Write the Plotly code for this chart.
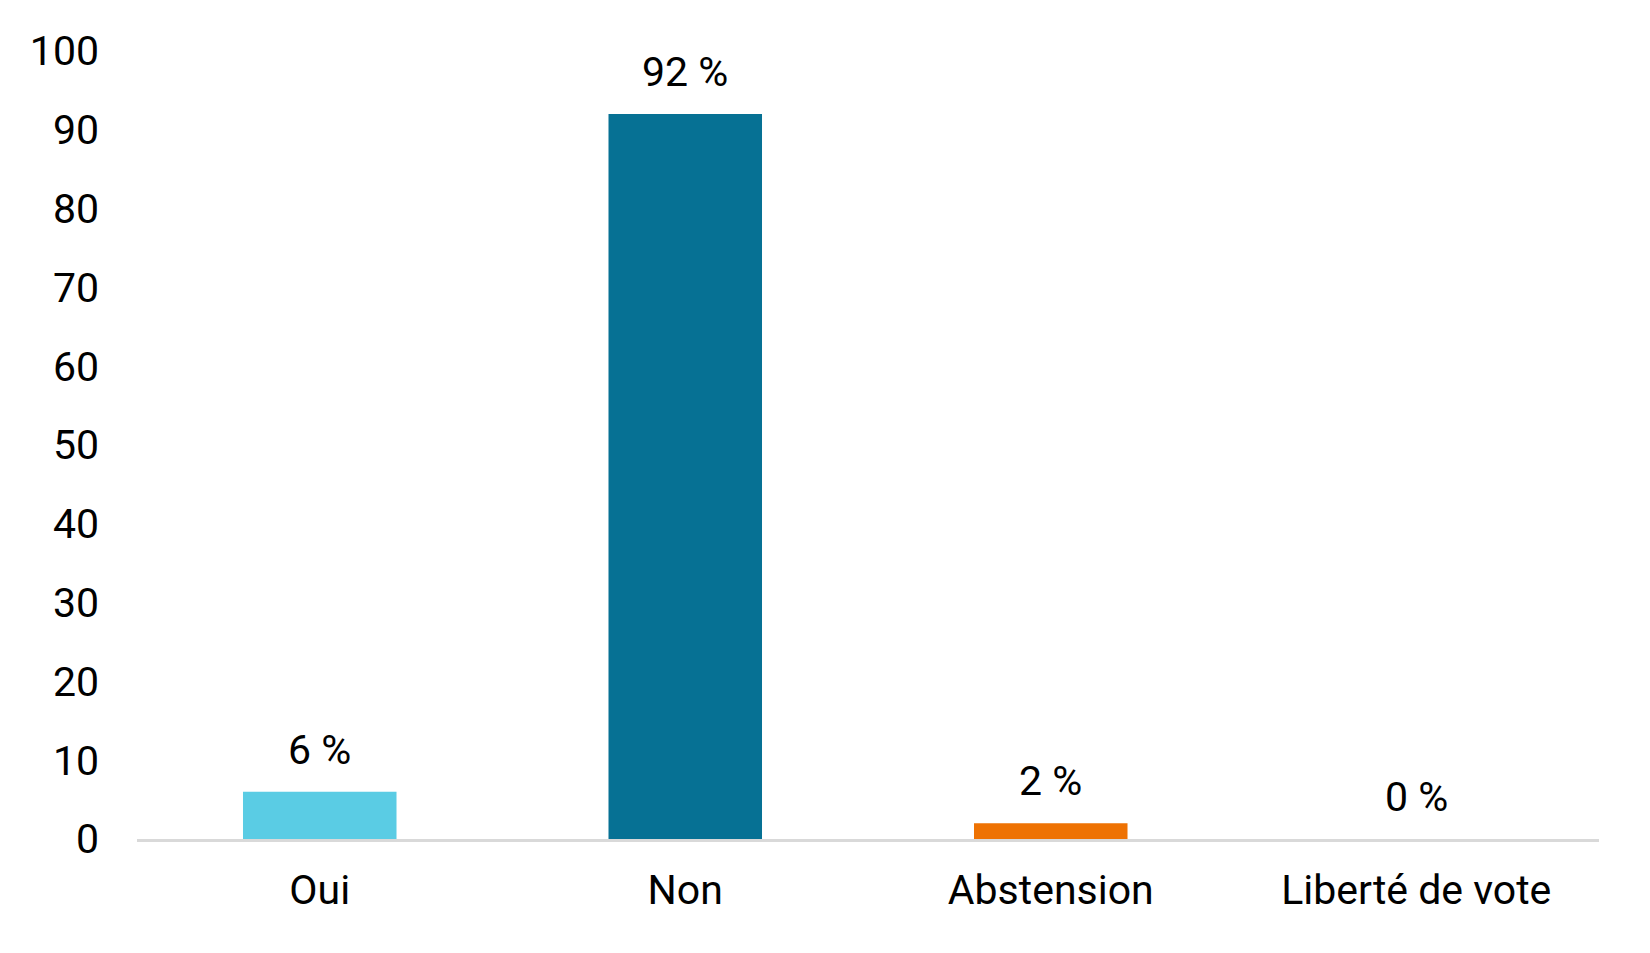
import plotly.graph_objects as go

categories = ["Oui", "Non", "Abstension", "Liberté de vote"]
values = [6, 92, 2, 0]
labels = ["6 %", "92 %", "2 %", "0 %"]
colors = ["#5ACCE4", "#067194", "#EE7203", "#A6A6A6"]
y_ticks = [0, 10, 20, 30, 40, 50, 60, 70, 80, 90, 100]

fig = go.Figure(go.Bar(
    x=categories,
    y=values,
    marker=dict(color=colors, line=dict(width=0)),
    hoverinfo="skip",
))

# value labels above each bar
for cat, val, lab in zip(categories, values, labels):
    fig.add_annotation(
        x=cat, y=val, text=lab, showarrow=False,
        yanchor="bottom", yshift=16,
        font=dict(family="Roboto", size=41, color="#000000"),
    )

fig.update_layout(
    width=1650, height=953,
    paper_bgcolor="white", plot_bgcolor="white",
    margin=dict(l=129, r=59, t=43, b=122),
    bargap=0.58,
    showlegend=False,
    font=dict(family="Roboto", size=41, color="#000000"),
)
fig.update_xaxes(
    showline=True, linecolor="#D9D9D9", linewidth=3,
    showgrid=False, ticks="", ticklabelstandoff=13,
    tickfont=dict(family="Roboto", size=41, color="#000000"),
)
fig.update_yaxes(
    range=[0, 100], tickvals=y_ticks, showgrid=False, zeroline=False,
    showline=False, ticks="", ticklabelstandoff=37,
    tickfont=dict(family="Roboto", size=41, color="#000000"),
)

fig.write_html("out.html")
